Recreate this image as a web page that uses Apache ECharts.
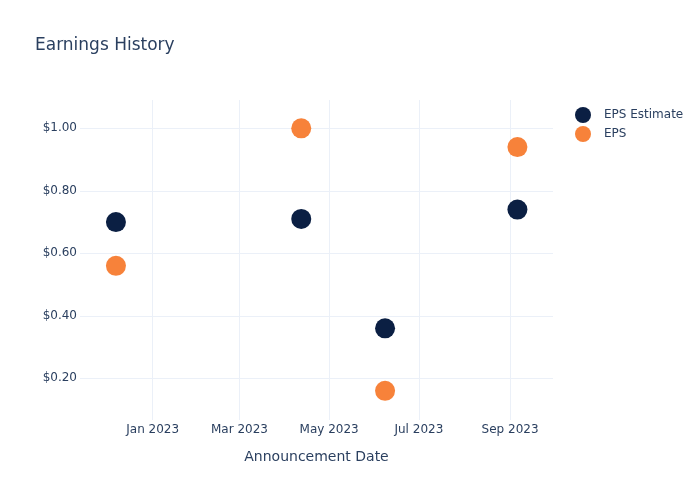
<!DOCTYPE html>
<html>
<head>
<meta charset="utf-8">
<script src="https://cdn.jsdelivr.net/npm/echarts@6/dist/echarts.min.js"></script>
<style>html,body{margin:0;padding:0;background:#fff}#c{width:700px;height:500px}</style>
</head>
<body>
<div id="c"></div>
<script>
const dates = ['2022-12-07', '2023-04-12', '2023-06-08', '2023-09-06'];
const epsEstimate = [0.70, 0.71, 0.36, 0.74];
const eps = [0.56, 1.00, 0.16, 0.94];
const xTickDates = ['2023-01-01', '2023-03-01', '2023-05-01', '2023-07-01', '2023-09-01'];
const yTicks = [0.2, 0.4, 0.6, 0.8, 1.0];
const monthNames = ['Jan','Feb','Mar','Apr','May','Jun','Jul','Aug','Sep','Oct','Nov','Dec'];

const ts = s => Date.parse(s + 'T00:00:00Z');
const DAY = 86400000;
const jan1 = ts('2023-01-01');
const xTicks = xTickDates.map(ts);
const font = 'DejaVu Sans';
const txt = '#2a3f5f';

const chart = echarts.init(document.getElementById('c'), null, {renderer: 'canvas'});
chart.setOption({
  backgroundColor: '#fff',
  animation: false,
  textStyle: {fontFamily: font},
  title: {
    text: 'Earnings History', left: 35, top: 37, padding: 0,
    textStyle: {fontFamily: font, fontSize: 17, fontWeight: 'normal', color: txt}
  },
  legend: {
    orient: 'vertical', left: 575, top: 107, padding: 0,
    itemWidth: 16, itemHeight: 16, itemGap: 3, icon: 'circle',
    textStyle: {fontFamily: font, fontSize: 12, color: txt, padding: [0, 0, 0, 8]},
    data: ['EPS Estimate', 'EPS']
  },
  grid: {left: 80, top: 100, width: 473, height: 320, containLabel: false},
  xAxis: {
    type: 'value',
    min: jan1 - 49.44 * DAY,
    max: jan1 + 272.2 * DAY,
    name: 'Announcement Date', nameLocation: 'middle', nameGap: 30,
    nameTextStyle: {fontFamily: font, fontSize: 14, color: txt},
    axisLine: {show: false},
    axisTick: {show: false, customValues: xTicks},
    axisLabel: {
      customValues: xTicks, margin: 4, fontFamily: font, fontSize: 12, color: txt,
      formatter: v => { const d = new Date(v); return monthNames[d.getUTCMonth()] + ' ' + d.getUTCFullYear(); }
    },
    splitLine: {show: true, lineStyle: {color: '#EBF0F8', width: 1}}
  },
  yAxis: {
    type: 'value',
    min: 0.0666, max: 1.0906,
    axisLine: {show: false},
    axisTick: {show: false, customValues: yTicks},
    axisLabel: {
      customValues: yTicks, margin: 3, fontFamily: font, fontSize: 12, color: txt,
      formatter: v => '$' + v.toFixed(2)
    },
    splitLine: {show: true, lineStyle: {color: '#EBF0F8', width: 1}}
  },
  series: [
    {
      name: 'EPS Estimate', type: 'scatter', symbolSize: 20,
      itemStyle: {color: '#0b1f43', opacity: 1},
      data: dates.map((d, i) => [ts(d), epsEstimate[i]])
    },
    {
      name: 'EPS', type: 'scatter', symbolSize: 20,
      itemStyle: {color: '#f7823a', opacity: 1},
      data: dates.map((d, i) => [ts(d), eps[i]])
    }
  ]
});
</script>
</body>
</html>
